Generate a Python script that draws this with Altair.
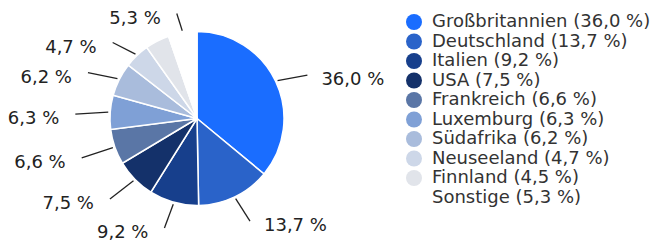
import math
import altair as alt
import pandas as pd

categories = ["Großbritannien", "Deutschland", "Italien", "USA", "Frankreich",
              "Luxemburg", "Südafrika", "Neuseeland", "Finnland", "Sonstige"]
values = [36.0, 13.7, 9.2, 7.5, 6.6, 6.3, 6.2, 4.7, 4.5, 5.3]
colors = ["#1a6dff", "#2a63c9", "#173f8c", "#14316a", "#5a76a6",
          "#7fa0d6", "#a9bcdc", "#cdd7e8", "#e1e4ea", "#ffffff"]
show_label = [True, True, True, True, True, True, True, True, False, True]

FONT = "DejaVu Sans"
W, H = 650, 240
CX, CY = 189, 110.5          # pie centre inside the chart (px)
R = 87                       # pie radius (px)
R_IN = 89                    # connector start
RX, RY = 122, 110            # connector end (elliptical)
SHIFT = 3.5                  # connector-end ellipse sits a bit lower
LBL_DY = 5                   # label centre below connector end


def fmt(v):
    return f"{v:.1f}".replace(".", ",") + " %"


rows = []
cum = 0.0
for i, (c, v) in enumerate(zip(categories, values)):
    mid = 2 * math.pi * (cum + v / 2) / 100.0
    cum += v
    s, co = math.sin(mid), math.cos(mid)
    side = "right" if s >= 0 else "left"
    ox, oy = RX * s, RY * co - SHIFT
    rows.append({
        "idx": i,
        "cat": c,
        "value": v,
        "legend": f"{c} ({fmt(v)})",
        "label": fmt(v),
        "show": show_label[i],
        "x1": R_IN * s, "y1": R_IN * co,
        "x2": ox, "y2": oy,
        "tx": ox + (14 if side == "right" else -16),
        "ty": oy - LBL_DY,
        "side": side,
    })
df = pd.DataFrame(rows)
legend_domain = list(df["legend"])

xs = alt.Scale(domain=[-CX, W - CX])
ys = alt.Scale(domain=[-(H - CY), CY])

base = alt.Chart(df)

pie = base.mark_arc(outerRadius=R, stroke="white", strokeWidth=1.5).encode(
    theta=alt.Theta("value:Q", stack=True),
    order=alt.Order("idx:Q", sort="ascending"),
    color=alt.Color(
        "legend:N",
        scale=alt.Scale(domain=legend_domain, range=colors),
        sort=legend_domain,
        legend=alt.Legend(
            orient="none", legendX=397, legendY=5, title=None,
            symbolType="circle", symbolSize=256, symbolStrokeWidth=0,
            symbolOpacity=1,
            labelFont=FONT, labelFontSize=18, labelColor="#333333",
            labelOffset=9, rowPadding=1.5, padding=0, labelLimit=400,
        ),
    ),
    x=alt.datum(0, scale=xs, axis=None),
    y=alt.datum(0, scale=ys, axis=None),
)

lbl = base.transform_filter("datum.show")

conn = lbl.mark_rule(color="#222222", strokeWidth=1.3).encode(
    x=alt.X("x1:Q", scale=xs, axis=None),
    y=alt.Y("y1:Q", scale=ys, axis=None),
    x2="x2:Q",
    y2="y2:Q",
)

txt_r = lbl.transform_filter("datum.side == 'right'").mark_text(
    align="left", baseline="middle", font=FONT, fontSize=18, color="#222222"
).encode(
    x=alt.X("tx:Q", scale=xs, axis=None),
    y=alt.Y("ty:Q", scale=ys, axis=None),
    text="label:N",
)
txt_l = lbl.transform_filter("datum.side == 'left'").mark_text(
    align="right", baseline="middle", font=FONT, fontSize=18, color="#222222"
).encode(
    x=alt.X("tx:Q", scale=xs, axis=None),
    y=alt.Y("ty:Q", scale=ys, axis=None),
    text="label:N",
)

chart = alt.layer(pie, conn, txt_r, txt_l).properties(
    width=W, height=H, autosize=alt.AutoSizeParams(type="none"), padding=0
).configure_view(stroke=None)

chart.save("out.html", embed_options={"renderer": "svg", "actions": False})
